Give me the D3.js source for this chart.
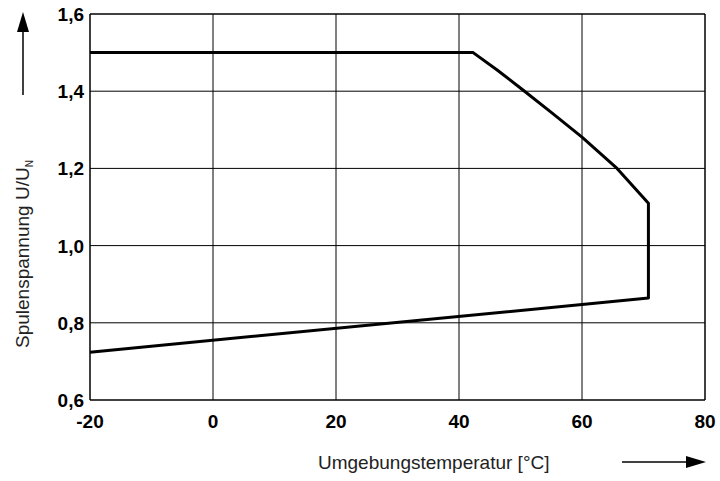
<!DOCTYPE html><html><head><meta charset="utf-8"><script src="https://cdn.jsdelivr.net/npm/d3@7"></script>
<style>body{margin:0;background:#fff}</style></head><body><svg id="c" width="720" height="481"></svg>
<script>
const xTicks=[-20,0,20,40,60,80];
const yTicks=[0.6,0.8,1.0,1.2,1.4,1.6];
const curveT=[-20,42.3,46.2,50.4,55,60,65.7,70.8,70.8,-20];
const curveU=[1.5,1.5,1.455,1.403,1.345,1.281,1.2,1.11,0.864,0.724];
const svg=d3.select("#c");
const x=d3.scaleLinear().domain([-20,80]).range([90,705]);
const y=d3.scaleLinear().domain([0.6,1.6]).range([400,14]);
const g=svg.append("g");
xTicks.forEach(t=>g.append("line").attr("x1",x(t)).attr("x2",x(t)).attr("y1",y(0.6)).attr("y2",y(1.6)).attr("stroke","#000").attr("stroke-width",t==-20||t==80?1.5:1));
yTicks.forEach(t=>g.append("line").attr("y1",y(t)).attr("y2",y(t)).attr("x1",x(-20)).attr("x2",x(80)).attr("stroke","#000").attr("stroke-width",t==0.6||t==1.6?1.5:1));
const fmt=d3.format(".1f");
xTicks.forEach(t=>svg.append("text").attr("x",x(t)).attr("y",428).attr("text-anchor","middle").attr("font-family","Liberation Sans,Arial").attr("font-weight","bold").attr("font-size",19).text(t));
yTicks.forEach(t=>svg.append("text").attr("x",84).attr("y",y(t)+7).attr("text-anchor","end").attr("font-family","Liberation Sans,Arial").attr("font-weight","bold").attr("font-size",19).text(fmt(t).replace(".",",")));
const pts=curveT.map((t,i)=>[x(t),y(curveU[i])]);
svg.append("path").attr("d",d3.line()(pts)).attr("fill","none").attr("stroke","#000").attr("stroke-width",3).attr("stroke-linejoin","round");
svg.append("text").attr("x",318).attr("y",469).attr("font-family","Liberation Sans,Arial").attr("font-size",19).attr("fill","#222").text("Umgebungstemperatur [°C]");
svg.append("line").attr("x1",622).attr("x2",690).attr("y1",462).attr("y2",462).attr("stroke","#000").attr("stroke-width",1.5);
svg.append("path").attr("d","M706,462 L686,456 L686,468 Z").attr("fill","#000");
const yl=svg.append("text").attr("transform","translate(29,348) rotate(-90)").attr("font-family","Liberation Sans,Arial").attr("font-size",19).attr("fill","#222");
yl.append("tspan").text("Spulenspannung U/U");
yl.append("tspan").attr("font-size",10).attr("dy",4).text("N");
svg.append("line").attr("x1",23).attr("x2",23).attr("y1",95).attr("y2",30).attr("stroke","#000").attr("stroke-width",1.5);
svg.append("path").attr("d","M23,12 L17,32 L29,32 Z").attr("fill","#000");
</script></body></html>
